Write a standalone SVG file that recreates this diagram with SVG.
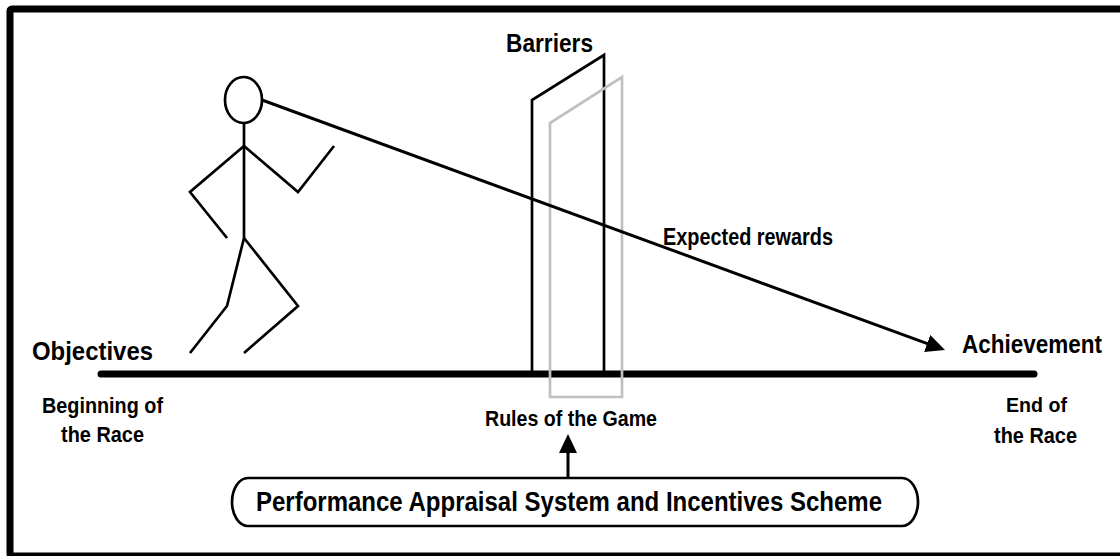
<svg xmlns="http://www.w3.org/2000/svg" width="1120" height="556" viewBox="0 0 1120 556">
  <style>
    .lbl { font-family: "Liberation Sans", Arial, sans-serif; font-weight: bold; fill: #000; }
    .ink { fill: none; stroke: #000; stroke-width: 2.7; stroke-linejoin: miter; }
    .ghost { fill: none; stroke: #c0c0c0; stroke-width: 2.7; }
    .conn { fill: none; stroke: #000; stroke-width: 3; }
  </style>
  <defs>
    <marker id="head" viewBox="0 0 19 18" refX="9" refY="9" markerWidth="19" markerHeight="18" markerUnits="userSpaceOnUse" orient="auto">
      <path d="M0,0 L19,9 L0,18 z" fill="#000"/>
    </marker>
  </defs>

  <rect width="1120" height="556" fill="#fff"/>
  <!-- outer frame -->
  <rect x="10" y="9" width="1130" height="547" fill="none" stroke="#000" stroke-width="7" rx="2"/>

  <!-- runner -->
  <g id="runner" class="ink">
    <ellipse cx="243.5" cy="100" rx="18.5" ry="23"/>
    <path d="M244,123 V238"/>
    <path d="M244,146 L190,192 L227,238"/>
    <path d="M244,146 L298,192 L334,146"/>
    <path d="M244,238 L227,306 L190,353"/>
    <path d="M244,238 L298,306 L244,353"/>
  </g>

  <!-- race track -->
  <g id="track">
    <line x1="101" y1="374" x2="1034" y2="374" stroke="#000" stroke-width="7" stroke-linecap="round"/>
  </g>

  <!-- barriers -->
  <g id="barriers">
    <path class="ink" d="M532,374 V100 L604,55 V374"/>
    <path class="ghost" d="M550,397 V123 L622,77 V397 Z"/>
    <text class="lbl" x="506" y="52" font-size="25" textLength="87" lengthAdjust="spacingAndGlyphs">Barriers</text>
  </g>

  <g id="objectives">
    <text class="lbl" x="32" y="360" font-size="25" textLength="121" lengthAdjust="spacingAndGlyphs">Objectives</text>
  </g>
  <g id="achievement">
    <text class="lbl" x="962" y="353" font-size="25" textLength="140" lengthAdjust="spacingAndGlyphs">Achievement</text>
  </g>

  <g id="race-start">
    <text class="lbl" x="42" y="413" font-size="22" textLength="121" lengthAdjust="spacingAndGlyphs">Beginning of</text>
    <text class="lbl" x="61" y="442" font-size="22" textLength="83" lengthAdjust="spacingAndGlyphs">the Race</text>
  </g>
  <g id="race-end">
    <text class="lbl" x="1006" y="412" font-size="21" textLength="61" lengthAdjust="spacingAndGlyphs">End of</text>
    <text class="lbl" x="994" y="443" font-size="22" textLength="83" lengthAdjust="spacingAndGlyphs">the Race</text>
  </g>

  <g id="rules">
    <text class="lbl" x="485" y="426" font-size="22" textLength="172" lengthAdjust="spacingAndGlyphs">Rules of the Game</text>
  </g>

  <g id="rewards-label">
    <text class="lbl" x="663" y="245" font-size="23" textLength="170" lengthAdjust="spacingAndGlyphs">Expected rewards</text>
  </g>

  <g id="appraisal">
    <rect x="232" y="478" width="686" height="48" rx="16" ry="24" fill="#fff" stroke="#000" stroke-width="2.7"/>
    <text class="lbl" x="256" y="511" font-size="27" textLength="626" lengthAdjust="spacingAndGlyphs">Performance Appraisal System and Incentives Scheme</text>
  </g>

  <!-- connectors -->
  <g id="connectors">
    <line class="conn" x1="262" y1="100" x2="935.6" y2="346.6" marker-end="url(#head)"/>
    <line class="conn" x1="568" y1="478" x2="568" y2="444" stroke-width="2.7" marker-end="url(#head)"/>
  </g>
</svg>
